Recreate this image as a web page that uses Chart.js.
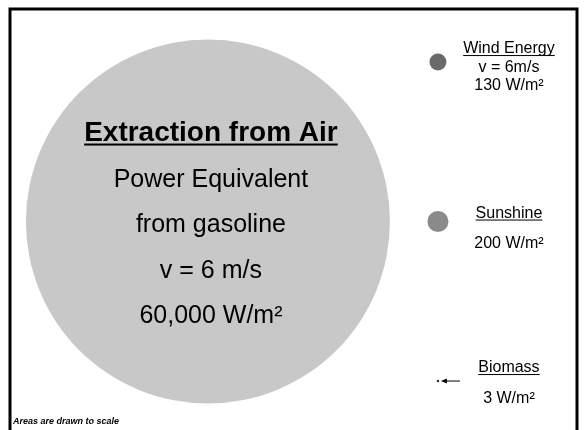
<!DOCTYPE html>
<html>
<head>
<meta charset="utf-8">
<script src="https://cdn.jsdelivr.net/npm/chart.js@4/dist/chart.umd.min.js"></script>
<style>
    html, body { margin: 0; padding: 0; background: #fff; }
    canvas { display: block; }
</style>
</head>
<body>
<canvas id="areas-chart" width="584" height="430"></canvas>
<script>
const sources = ["Extraction from Air", "Wind Energy", "Sunshine", "Biomass"];
const powerDensity = [60000, 130, 200, 3]; // W/m2
const densityLabels = ["60,000 W/m²", "130 W/m²", "200 W/m²", "3 W/m²"];
const notes = [["Power Equivalent", "from gasoline", "v = 6 m/s"], ["v = 6m/s"], [], []];
const footnote = "Areas are drawn to scale";

// layout: where each circle sits on the hidden scales
const columns = [0, 1, 1, 1];
const rows = [1, 0, 1, 2];
const fills = ["#c8c8c8", "#6a6a6a", "#8a8a8a", "#333333"];

const FONT = "'Liberation Sans', Arial, sans-serif";
const MAX_RADIUS = 182;

function radiusFor(value) {
    // circle area proportional to power density
    return MAX_RADIUS * Math.sqrt(value / Math.max(...powerDensity));
}

function drawUnderlined(ctx, text, x, y, font, gap, thickness) {
    ctx.font = font;
    ctx.fillText(text, x, y);
    const w = ctx.measureText(text).width;
    ctx.fillRect(x - w / 2, y + gap, w, thickness);
}

const labelsPlugin = {
    id: "labels",
    afterDatasetsDraw(chart) {
        const ctx = chart.ctx;
        const meta = chart.getDatasetMeta(0);
        ctx.save();
        ctx.fillStyle = "#000";
        ctx.textAlign = "center";
        ctx.textBaseline = "alphabetic";

        // big circle
        const big = meta.data[0];
        drawUnderlined(ctx, sources[0], big.x + 3, big.y - 81, `bold 28px ${FONT}`, 3, 2);
        ctx.font = `25px ${FONT}`;
        notes[0].forEach((line, i) => {
            ctx.fillText(line, big.x + 3, big.y - 35 + i * 45.5);
        });
        ctx.fillText(densityLabels[0], big.x + 3, big.y + 101);

        // small circles, labels to the right
        const titleDy = [0, -9, -4, -9];
        const valueDy = [0, 28, 26, 22];
        for (let i = 1; i < sources.length; i++) {
            const pt = meta.data[i];
            const lx = pt.x + 71;
            drawUnderlined(ctx, sources[i], lx, pt.y + titleDy[i], `16px ${FONT}`, 2, 1);
            ctx.font = `16px ${FONT}`;
            notes[i].forEach((line, j) => {
                ctx.fillText(line, lx, pt.y + titleDy[i] + 19 * (j + 1));
            });
            ctx.fillText(densityLabels[i], lx, pt.y + valueDy[i]);
        }

        // arrow pointing at the tiny biomass dot
        const bio = meta.data[3];
        ctx.strokeStyle = "#000";
        ctx.lineWidth = 1;
        ctx.beginPath();
        ctx.moveTo(bio.x + 22, bio.y);
        ctx.lineTo(bio.x + 5, bio.y);
        ctx.stroke();
        ctx.beginPath();
        ctx.moveTo(bio.x + 3, bio.y);
        ctx.lineTo(bio.x + 9, bio.y - 2.5);
        ctx.lineTo(bio.x + 9, bio.y + 2.5);
        ctx.closePath();
        ctx.fill();

        // footnote
        ctx.textAlign = "left";
        ctx.font = `italic bold 9px ${FONT}`;
        ctx.fillText(footnote, 13, 424);

        // frame
        ctx.lineWidth = 3;
        ctx.strokeRect(10, 9, 567, 440);
        ctx.restore();
    },
};

new Chart(document.getElementById("areas-chart"), {
    type: "bubble",
    data: {
        datasets: [
            {
                data: powerDensity.map((v, i) => ({
                    x: columns[i],
                    y: rows[i],
                    r: radiusFor(v),
                })),
                backgroundColor: fills,
                borderWidth: 0,
                hoverBorderWidth: 0,
            },
        ],
    },
    options: {
        responsive: false,
        animation: false,
        events: [],
        clip: false,
        layout: { padding: 0, autoPadding: false },
        plugins: {
            legend: { display: false },
            tooltip: { enabled: false },
        },
        scales: {
            x: { type: "linear", display: false, min: -0.904, max: 1.635 },
            y: { type: "linear", display: false, reverse: true, min: -0.389, max: 2.307 },
        },
    },
    plugins: [labelsPlugin],
});
</script>
</body>
</html>
